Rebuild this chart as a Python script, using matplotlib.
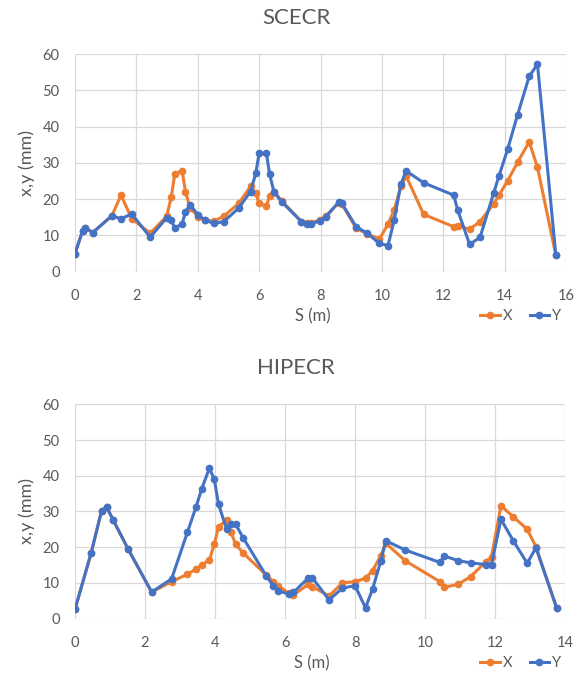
import numpy as np
import matplotlib
matplotlib.use('Agg')
import matplotlib.pyplot as plt

# --- SCECR ---
sc_s = [0, 0.25, 0.33, 0.58, 1.2, 1.5, 1.85, 2.45, 2.99, 3.14, 3.25, 3.49, 3.6, 3.75,
        4.02, 4.25, 4.52, 4.85, 5.33, 5.72, 5.89, 6.0, 6.24, 6.34, 6.48, 6.73, 7.38,
        7.57, 7.68, 7.98, 8.17, 8.59, 8.69, 9.16, 9.52, 9.92, 10.2, 10.4, 10.62, 10.79,
        11.36, 12.34, 12.47, 12.86, 13.2, 13.64, 13.82, 14.1, 14.42, 14.8, 15.07, 15.67]
sc_x = [5.0, 11.3, 12.0, 10.8, 15.4, 21.1, 14.6, 10.6, 15.3, 20.7, 26.9, 27.8, 22.1, 17.5,
        15.2, 14.2, 13.9, 15.3, 18.8, 23.5, 21.7, 18.8, 18.1, 21.0, 22.1, 19.6, 13.8,
        13.5, 13.5, 14.2, 15.3, 19.0, 18.7, 12.0, 10.4, 9.0, 13.1, 17.0, 23.5, 26.4,
        15.8, 12.4, 12.7, 11.7, 13.8, 18.7, 21.1, 25.1, 30.1, 35.8, 28.8, 4.5]
sc_y = [5.0, 11.3, 12.1, 10.8, 15.4, 14.6, 15.9, 9.5, 14.9, 14.2, 12.0, 13.2, 16.5, 18.4,
        15.6, 14.2, 13.3, 13.8, 17.5, 22.1, 27.1, 32.6, 32.6, 26.9, 22.1, 19.3, 13.8,
        13.2, 13.2, 14.0, 15.1, 19.1, 18.9, 12.4, 10.6, 7.8, 7.2, 14.2, 24.1, 27.8,
        24.5, 21.1, 17.0, 7.5, 9.5, 21.6, 26.5, 33.8, 43.2, 53.8, 57.2, 4.5]

# --- HIPECR ---
hp_s = [0, 0.46, 0.76, 0.9, 1.09, 1.52, 2.19, 2.76, 3.21, 3.46, 3.62, 3.84, 3.98, 4.1,
        4.33, 4.45, 4.59, 4.81, 5.46, 5.67, 5.81, 6.1, 6.24, 6.67, 6.78, 7.26, 7.64, 8.0,
        8.3, 8.5, 8.74, 8.88, 9.43, 10.43, 10.55, 10.95, 11.3, 11.74, 11.9, 12.17, 12.52,
        12.92, 13.17, 13.76]
hp_x = [2.6, 18.3, 30.2, 31.3, 27.6, 19.4, 7.4, 10.3, 12.4, 13.8, 15.0, 16.4, 20.8, 25.7,
        27.6, 24.3, 20.8, 18.3, 12.2, 10.3, 9.2, 7.1, 6.6, 9.6, 8.9, 6.3, 10.0, 10.3,
        11.3, 13.4, 17.6, 21.1, 16.2, 10.3, 8.7, 9.6, 11.7, 15.9, 17.3, 31.6, 28.5,
        25.0, 20.1, 3.0]
hp_y = [2.6, 18.3, 30.2, 31.3, 27.6, 19.4, 7.4, 11.1, 24.1, 31.3, 36.3, 42.1, 39.0, 32.0,
        25.1, 26.5, 26.4, 22.5, 12.0, 9.1, 7.7, 6.9, 7.3, 11.4, 11.4, 5.2, 8.5, 9.2,
        3.0, 8.2, 16.2, 21.8, 19.2, 15.7, 17.5, 16.2, 15.6, 15.1, 15.1, 27.8, 21.8,
        15.5, 19.8, 3.0]

ORANGE = '#ED7D31'
BLUE = '#4472C4'
TXT = '#595959'
GRID = '#D9D9D9'
W, H = 578, 680

plt.rcParams['font.family'] = ['Lato', 'DejaVu Sans']

fig = plt.figure(figsize=(W / 100, H / 100), dpi=100)

def fx(px):
    return px / W

def fy(py):
    return 1 - py / H

def panel(left, top, right, bottom, s, x, y, xmax, title, title_y, lab_y):
    ax = fig.add_axes([fx(left), fy(bottom), fx(right - left), (bottom - top) / H])
    ax.plot(s, x, color=ORANGE, lw=2.2, marker='o', ms=4.5, label='X', zorder=3)
    ax.plot(s, y, color=BLUE, lw=2.2, marker='o', ms=4.5, label='Y', zorder=4)
    ax.set_xlim(0, xmax)
    ax.set_ylim(0, 60)
    ax.set_xticks(np.arange(0, xmax + 1, 2))
    ax.set_yticks(np.arange(0, 61, 10))
    ax.grid(True, color=GRID, lw=0.9)
    ax.set_axisbelow(True)
    for sp in ax.spines.values():
        sp.set_visible(False)
    ax.tick_params(length=0, labelsize=10.5, labelcolor=TXT)
    ax.tick_params(axis='x', pad=12.5)
    ax.tick_params(axis='y', pad=11)
    # titre, axes et legende
    fig.text(fx(296), fy(title_y), title, fontsize=16, color=TXT, ha='center', va='center')
    fig.text(fx(27), fy((top + bottom) / 2), 'x,y (mm)', fontsize=13, color=TXT,
             rotation=90, ha='center', va='center')
    fig.text(fx((left + right) / 2 - 8), fy(lab_y), 'S (m)', fontsize=12, color=TXT,
             ha='center', va='center')
    ax.legend(loc='center left', bbox_to_anchor=(fx(480), fy(lab_y)),
              bbox_transform=fig.transFigure, ncol=2, frameon=False,
              fontsize=10.5, labelcolor=TXT, handlelength=1.35, handletextpad=0.2,
              columnspacing=1.2, borderpad=0, borderaxespad=0)
    return ax

panel(75, 54, 566, 271.7, sc_s, sc_x, sc_y, 16, 'SCECR', 17.5, 316)
panel(75, 404.3, 565, 618.5, hp_s, hp_x, hp_y, 14, 'HIPECR', 368, 663)

fig.savefig('out.png', dpi=100)
